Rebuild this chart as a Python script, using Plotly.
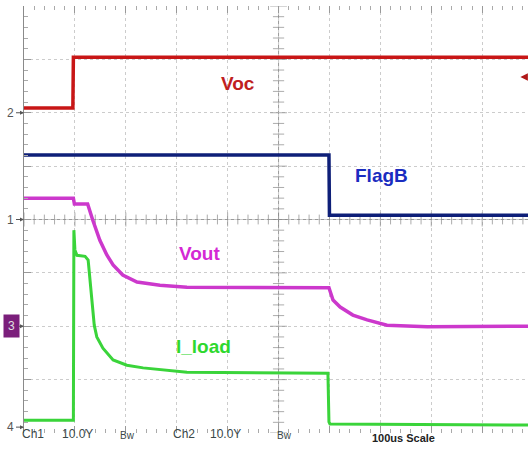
import numpy as np
import plotly.graph_objects as go

# time in microseconds (100 us / div), vertical position in screen divisions (0 = bottom)
voc_t = [0, 96, 97, 990]
voc_v = [6.09, 6.09, 7.04, 7.04]

flagb_t = [0, 599, 600, 990]
flagb_v = [5.21, 5.21, 4.08, 4.08]

vout_t = [0, 97, 99, 125, 135, 149, 163, 175, 194, 222, 267, 320, 599, 607, 621, 646, 674, 713, 792, 990]
vout_v = [4.40, 4.40, 4.29, 4.29, 3.99, 3.61, 3.33, 3.15, 2.96, 2.83, 2.77, 2.73, 2.72, 2.49, 2.36, 2.21, 2.12, 2.02, 1.99, 2.00]

iload_t = [0, 97, 98, 100, 104, 120, 126, 136, 138, 143, 155, 175, 202, 234, 320, 597, 599, 601, 990]
iload_v = [0.24, 0.24, 3.80, 3.43, 3.33, 3.31, 3.24, 2.30, 2.02, 1.80, 1.59, 1.37, 1.27, 1.22, 1.14, 1.12, 0.21, 0.17, 0.15]

channel_labels = ["2", "1", "3", "4"]
channel_levels = [6.0, 4.0, 2.0, 0.11]

bottom_labels = ["Ch1", "10.0Y", "Bw", "Ch2", "10.0Y", "Bw"]
bottom_label_t = [17, 106, 204, 314, 395, 512]

fig = go.Figure()

# centre crosshair with ticks
fig.add_shape(type="line", x0=0, x1=1, xref="paper", y0=4, y1=4, yref="y",
              line=dict(color="#9a9a9a", width=1), layer="below")
fig.add_shape(type="line", y0=0, y1=1, yref="paper", x0=500, x1=500, xref="x",
              line=dict(color="#9a9a9a", width=1), layer="below")
tx = np.arange(0, 1000, 20)
fig.add_trace(go.Scatter(x=tx, y=[4] * len(tx), mode="markers", hoverinfo="skip",
                         marker=dict(symbol="line-ns", size=[10 if v % 100 == 0 else 7 for v in tx],
                                     line=dict(color="#8a8a8a", width=1)), showlegend=False))
ty = np.round(np.arange(0, 8.01, 0.2), 2)
fig.add_trace(go.Scatter(x=[500] * len(ty), y=ty, mode="markers", hoverinfo="skip",
                         marker=dict(symbol="line-ew", size=[12 if abs(v - round(v)) < 1e-6 else 8 for v in ty],
                                     line=dict(color="#8a8a8a", width=1)), showlegend=False))

fig.add_trace(go.Scatter(x=voc_t, y=voc_v, mode="lines", line=dict(color="#c81616", width=3.5), showlegend=False))
fig.add_trace(go.Scatter(x=flagb_t, y=flagb_v, mode="lines", line=dict(color="#0e1f78", width=3.5), showlegend=False))
fig.add_trace(go.Scatter(x=iload_t, y=iload_v, mode="lines", line=dict(color="#3ad43a", width=3), showlegend=False))
fig.add_trace(go.Scatter(x=vout_t, y=vout_v, mode="lines", line=dict(color="#cc38cc", width=3.5), showlegend=False))

# trigger marker
fig.add_trace(go.Scatter(x=[96], y=[8.07], mode="markers", cliponaxis=False, hoverinfo="skip",
                         marker=dict(symbol="triangle-down", size=9, color="#f0a030"), showlegend=False))

annotations = []
for lab, lev in zip(channel_labels, channel_levels):
    box = lab == "3"
    annotations.append(dict(x=0, y=lev, xref="x", yref="y", text=lab, showarrow=True,
                            ax=-13 if box else -14, ay=0, arrowhead=2, arrowsize=0.8, arrowwidth=1,
                            arrowcolor="#555555",
                            font=dict(size=12, color="#e0e0e0" if box else "#555555", family="Liberation Sans"),
                            bgcolor="#7b1f7b" if box else None, borderpad=4 if box else 2))

# right-side level arrow
annotations.append(dict(x=975, y=6.67, xref="x", yref="y", text="", showarrow=True,
                        ax=12, ay=0, arrowhead=2, arrowsize=1, arrowwidth=1.5, arrowcolor="#b01818"))

labels = [("Voc", 420, 6.54, "#c0201e"), ("FlagB", 703, 4.83, "#1a2cc0"),
          ("Vout", 344, 3.37, "#d428d4"), ("I_load", 352, 1.63, "#2ed82e")]
for txt, x, y, c in labels:
    annotations.append(dict(x=x, y=y, xref="x", yref="y", text="<b>" + txt + "</b>", showarrow=False,
                            font=dict(size=19, color=c, family="Liberation Sans")))

for txt, x in zip(bottom_labels, bottom_label_t):
    small = txt == "Bw"
    annotations.append(dict(x=x, y=-0.024, xref="x", yref="paper", text=txt, showarrow=False,
                            font=dict(size=10 if small else 12, color="#3a4848", family="Liberation Sans")))
annotations.append(dict(x=745, y=-0.03, xref="x", yref="paper", text="<b>100us Scale</b>", showarrow=False,
                        font=dict(size=11, color="#222222", family="Liberation Sans")))

fig.update_layout(
    width=528, height=453,
    margin=dict(l=24, r=0, t=6, b=20),
    paper_bgcolor="white", plot_bgcolor="white",
    annotations=annotations,
    xaxis=dict(range=[0, 990], dtick=100, showgrid=True, gridcolor="#cccccc", griddash="dot",
               gridwidth=1, zeroline=False, showline=False, showticklabels=False,
               ticks="inside", ticklen=7, tickcolor="#999999", mirror="ticks",
               minor=dict(dtick=20, ticks="inside", ticklen=4, tickcolor="#aaaaaa", showgrid=False)),
    yaxis=dict(range=[0, 8], dtick=1, showgrid=True, gridcolor="#cccccc", griddash="dot",
               gridwidth=1, zeroline=False, showline=True, linecolor="#8a8a8a", showticklabels=False,
               ticks="inside", ticklen=7, tickcolor="#999999",
               minor=dict(dtick=0.2, ticks="inside", ticklen=4, tickcolor="#aaaaaa", showgrid=False)),
)

fig.write_html("out.html", config={"displayModeBar": False},
               post_script="document.body.style.margin='0';document.body.style.overflow='hidden';")
